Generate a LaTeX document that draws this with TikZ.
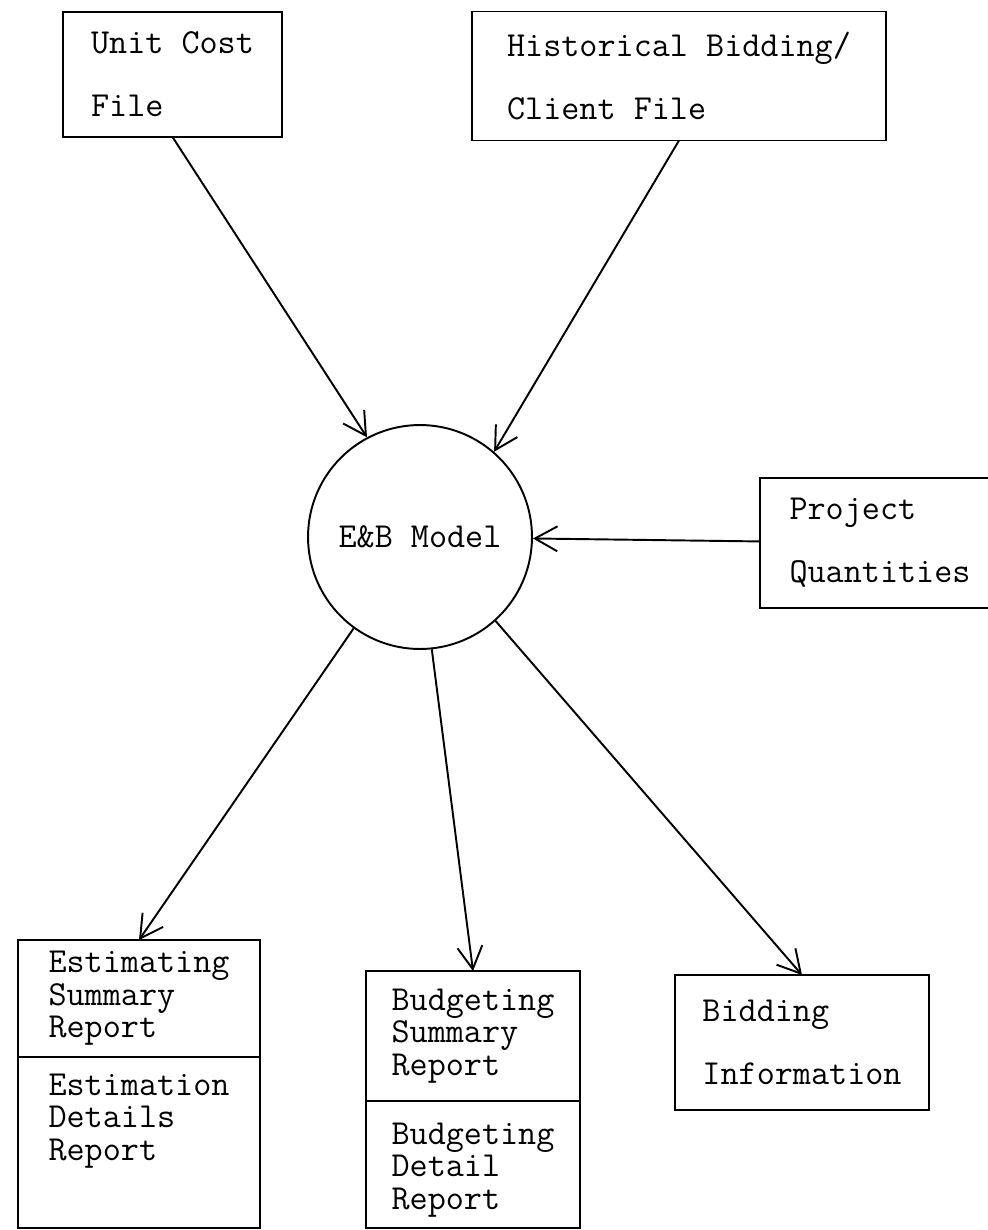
\documentclass[tikz,border=0pt]{standalone}
\usepackage{fontspec}
\usetikzlibrary{arrows.meta,positioning}

\begin{document}
\begin{tikzpicture}[x=0.02cm, y=-0.02cm, line width=1.1pt,
  font=\ttfamily\fontsize{20}{18.5}\selectfont,
  filebox/.style={draw, rectangle, align=left, inner sep=0pt, outer sep=0pt},
  flow/.style={-{Straight Barb[length=0.45cm, width=0.5cm]}}]
  \useasboundingbox (0,0) rectangle (987,1230);
  % input files
  \node[filebox, minimum width=4.38cm, minimum height=2.5cm] (unitcost) at (172.5,74.5)
    {Unit Cost\\[17.5pt]File};
  \node[filebox, minimum width=8.28cm, minimum height=2.58cm] (histfile) at (679,76)
    {Historical Bidding/\\[17.5pt]Client File};
  \node[filebox, minimum width=4.8cm, minimum height=2.6cm] (projqty) at (880,543)
    {Project\\[17.5pt]Quantities};
  % model
  \node[draw, circle, minimum size=4.48cm, inner sep=0pt] (model) at (420,537) {E\&B Model};
  % reports
  \node[filebox, minimum width=4.84cm, minimum height=2.34cm] (estsum) at (139,998.5)
    {Estimating\\Summary\\Report};
  \node[filebox, minimum width=4.84cm, minimum height=3.42cm, below=0pt of estsum] (estdet) {};
  \node[align=left, inner sep=0pt, below=0.32cm of estdet.north] (estdettext)
    {Estimation\\Details\\Report};
  \node[filebox, minimum width=4.28cm, minimum height=2.6cm] (budsum) at (473,1036)
    {Budgeting\\Summary\\Report};
  \node[filebox, minimum width=4.28cm, minimum height=2.54cm, below=0pt of budsum] (buddet) {};
  \node[align=left, inner sep=0pt, below=0.42cm of buddet.north] (buddettext)
    {Budgeting\\Detail\\Report};
  \node[filebox, minimum width=5.08cm, minimum height=2.7cm] (bidinfo) at (802,1042.5)
    {Bidding\\[17.5pt]Information};
  % flows
  \draw[flow] (unitcost.south) -- (model.118);
  \draw[flow] (histfile.south) -- (model.49);
  \draw[flow] (projqty) -- (model);
  \draw[flow] (model.234) -- (estsum.north);
  \draw[flow] (model.276) -- (budsum.north);
  \draw[flow] (model.312) -- (bidinfo.north);
\end{tikzpicture}
\end{document}
